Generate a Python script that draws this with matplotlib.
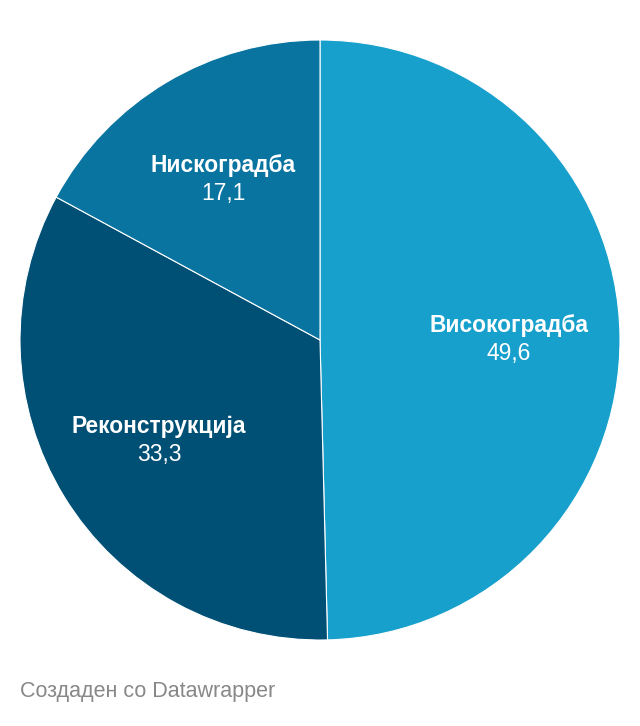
import numpy as np
import matplotlib.pyplot as plt

plt.rcParams['font.family'] = ['Liberation Sans', 'DejaVu Sans']

# податоци
categories = ['Високоградба', 'Реконструкција', 'Нискоградба']
values = [49.6, 33.3, 17.1]
value_labels = ['49,6', '33,3', '17,1']
colors = ['#18a0cc', '#004f75', '#0974a0']

fig = plt.figure(figsize=(6.4, 7.26), dpi=100)
ax = fig.add_axes([20 / 640, (726 - 640) / 726, 600 / 640, 600 / 726])

wedges, _ = ax.pie(values, colors=colors, startangle=90, counterclock=False,
                   radius=1, wedgeprops=dict(edgecolor='white', linewidth=0.8))
ax.set_xlim(-1, 1)
ax.set_ylim(-1, 1)
ax.set_aspect('equal')
ax.axis('off')

# натписи во парчињата
for w, name, val in zip(wedges, categories, value_labels):
    mid = np.deg2rad((w.theta1 + w.theta2) / 2)
    x, y = 0.63 * np.cos(mid), 0.63 * np.sin(mid)
    ax.text(x, y + 0.04, name, ha='center', va='center', color='white',
            fontsize=16.4, fontweight='bold')
    ax.text(x, y - 0.054, val, ha='center', va='center', color='white',
            fontsize=16.5)

fig.text(20 / 640, 1 - 692 / 726, 'Создаден со Datawrapper', ha='left',
         va='center', color='#888888', fontsize=15.5)

fig.savefig('out.png', dpi=100, facecolor='white')
